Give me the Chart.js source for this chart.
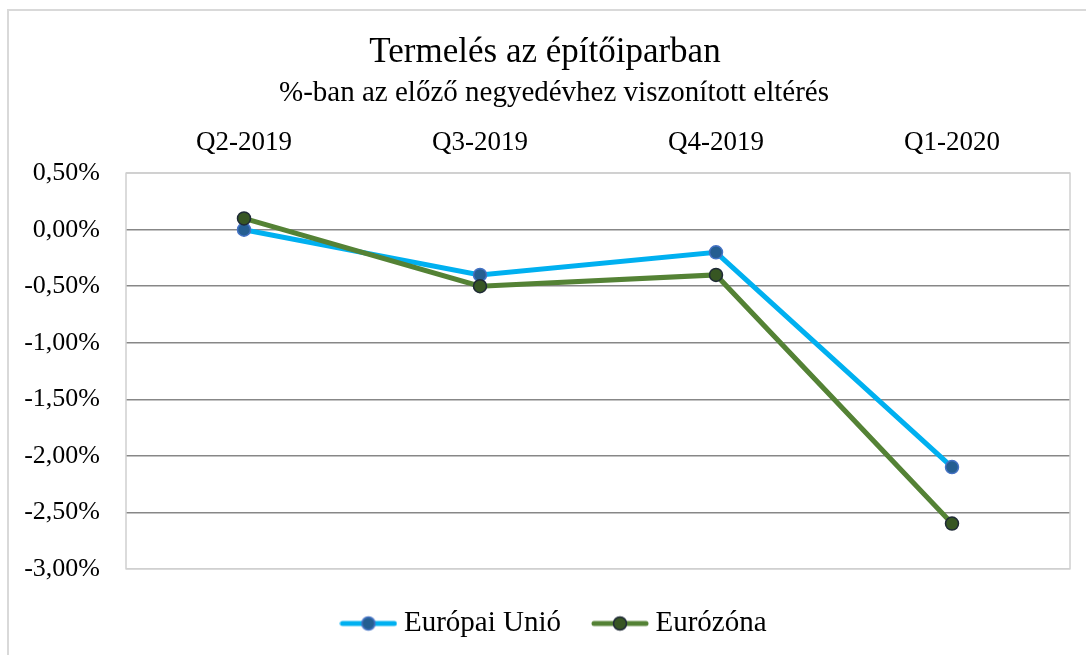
<!DOCTYPE html>
<html>
<head>
<meta charset="utf-8">
<script src="https://cdn.jsdelivr.net/npm/chart.js@4"></script>
<style>
    html, body { margin: 0; padding: 0; background: #fff; overflow: hidden; }
    #frame { position: absolute; left: 7px; top: 9px; width: 1100px; height: 700px; border: 2px solid #d9d9d9; }
    #wrap { position: absolute; left: 0; top: 0; width: 1086px; height: 655px; }
</style>
</head>
<body>
<div id="frame"></div>
<div id="wrap"><canvas id="termelesChart"></canvas></div>
<script>
const quarters = ['Q2-2019', 'Q3-2019', 'Q4-2019', 'Q1-2020'];
const euValues = [0.0, -0.4, -0.2, -2.1];
const euroAreaValues = [0.1, -0.5, -0.4, -2.6];
const seriesNames = ['Európai Unió', 'Eurózóna'];

const FONT = '"Liberation Serif", "DejaVu Serif", serif';

// small legend symbol: line with a marker in the middle
function legendSymbol(lineColor, fill, stroke) {
    const c = document.createElement('canvas');
    c.width = 58;
    c.height = 18;
    const g = c.getContext('2d');
    g.strokeStyle = lineColor;
    g.lineWidth = 5;
    g.lineCap = 'round';
    g.beginPath();
    g.moveTo(3, 9);
    g.lineTo(55, 9);
    g.stroke();
    g.beginPath();
    g.arc(29, 9, 6.5, 0, Math.PI * 2);
    g.fillStyle = fill;
    g.fill();
    g.lineWidth = 1.5;
    g.strokeStyle = stroke;
    g.stroke();
    return c;
}

const plotBorder = {
    id: 'plotBorder',
    beforeDatasetsDraw(chart) {
        const { ctx, chartArea } = chart;
        ctx.save();
        ctx.strokeStyle = '#d0d0d0';
        ctx.lineWidth = 1.5;
        ctx.strokeRect(chartArea.left, chartArea.top, chartArea.right - chartArea.left, chartArea.bottom - chartArea.top);
        ctx.restore();
    }
};

// the original centres title, subtitle and legend a bit right of the canvas middle
const nudgeBoxes = {
    id: 'nudgeBoxes',
    afterLayout(chart) {
        const shift = (box, dx) => {
            if (!box) return;
            box.left += dx;
            box.right += dx;
        };
        const title = chart.titleBlock;
        const subtitle = chart.boxes.find(b => title && b !== title && b.constructor === title.constructor);
        shift(title, 10);
        shift(subtitle, 19);
        shift(chart.legend, 22);
    }
};

const euSymbol = legendSymbol('#00b0f0', '#255e91', '#4472c4');
const ezSymbol = legendSymbol('#548235', '#375623', '#1f2a36');

const ctx = document.getElementById('termelesChart').getContext('2d');
new Chart(ctx, {
    type: 'line',
    data: {
        labels: quarters,
        datasets: [{
            label: seriesNames[0],
            data: euValues,
            borderColor: '#00b0f0',
            borderWidth: 5,
            pointRadius: 6.5,
            pointBackgroundColor: '#255e91',
            pointBorderColor: '#4472c4',
            pointBorderWidth: 1.5,
            tension: 0,
            order: 1
        }, {
            label: seriesNames[1],
            data: euroAreaValues,
            borderColor: '#548235',
            borderWidth: 5,
            pointRadius: 6.5,
            pointBackgroundColor: '#375623',
            pointBorderColor: '#1f2a36',
            pointBorderWidth: 1.5,
            tension: 0,
            order: 0
        }]
    },
    options: {
        responsive: true,
        maintainAspectRatio: false,
        animation: false,
        elements: { point: { pointStyle: 'circle' } },
        layout: { padding: { left: 0, right: 16, top: 0, bottom: 7 } },
        plugins: {
            title: {
                display: true,
                text: 'Termelés az építőiparban',
                color: '#000',
                font: { family: FONT, size: 35, weight: 'normal' },
                padding: { top: 32, bottom: 0 }
            },
            subtitle: {
                display: true,
                text: '%-ban az előző negyedévhez viszonított eltérés',
                color: '#000',
                font: { family: FONT, size: 29, weight: 'normal' },
                padding: { top: 2, bottom: 2 }
            },
            legend: {
                position: 'bottom',
                // empty title only adds a little room above the items
                title: { display: true, text: ' ', font: { size: 1 }, padding: 0.5 },
                labels: {
                    color: '#000',
                    font: { family: FONT, size: 29 },
                    usePointStyle: true,
                    pointStyleWidth: 42,
                    padding: 38,
                    generateLabels: (chart) => chart.data.datasets.map((ds, i) => ({
                        text: ds.label,
                        pointStyle: i === 0 ? euSymbol : ezSymbol,
                        fillStyle: ds.borderColor,
                        strokeStyle: ds.borderColor,
                        lineWidth: 0,
                        hidden: false,
                        datasetIndex: i,
                        fontColor: '#000'
                    }))
                }
            },
            tooltip: { enabled: false }
        },
        scales: {
            x: {
                position: 'top',
                offset: true,
                grid: { display: false, drawTicks: false },
                border: { display: false },
                ticks: {
                    color: '#000',
                    font: { family: FONT, size: 27 },
                    padding: 14,
                    maxRotation: 0
                }
            },
            y: {
                min: -3,
                max: 0.5,
                grid: {
                    drawTicks: false,
                    lineWidth: 1.5,
                    color: (c) => (c.tick && (c.tick.value === 0.5 || c.tick.value === -3)) ? '#d0d0d0' : '#878787'
                },
                border: { display: false },
                ticks: {
                    stepSize: 0.5,
                    color: '#000',
                    font: { family: FONT, size: 26 },
                    padding: 26,
                    callback: (v) => (Math.abs(v) < 1e-9 ? 0 : v).toFixed(2).replace('.', ',') + '%'
                },
                afterFit: (scale) => { scale.width = 126; }
            }
        }
    },
    plugins: [plotBorder, nudgeBoxes]
});
</script>
</body>
</html>
